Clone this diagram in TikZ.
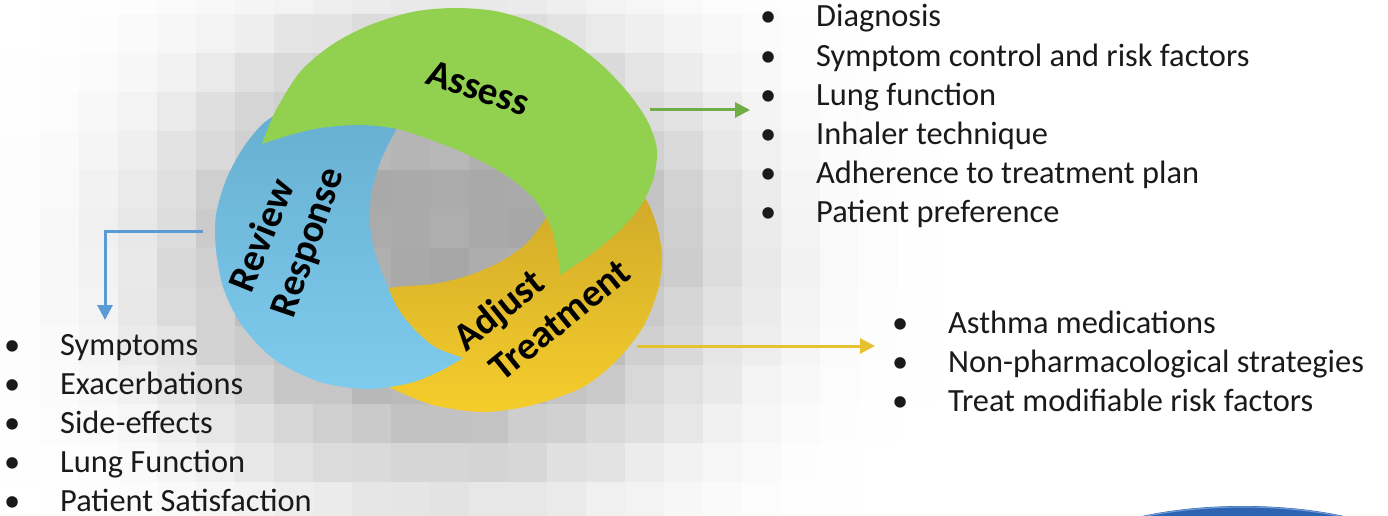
\documentclass[tikz,border=0pt]{standalone}
\usepackage{fontspec}
\setmainfont{Carlito}
\usetikzlibrary{arrows.meta}
\definecolor{gfill}{HTML}{92D050}
\definecolor{btop}{HTML}{66AED0}
\definecolor{bbot}{HTML}{7ECBEE}
\definecolor{ytop}{HTML}{CCA62A}
\definecolor{ybot}{HTML}{F5CD2B}
\definecolor{garr}{HTML}{70AD47}
\definecolor{barr}{HTML}{5B9BD5}
\definecolor{yarr}{HTML}{E6C22E}
\definecolor{txt}{HTML}{1A1A1A}
\definecolor{logo}{HTML}{2E63B2}
\definecolor{logorim}{HTML}{6E9AD6}
\tikzset{
  lbl/.style={font=\fontsize{39}{44}\selectfont\bfseries, text=black, inner sep=0pt},
  listtext/.style={font=\fontsize{32.4}{39.2}\selectfont, text=txt, inner sep=0pt, anchor=base west},
  conn/.style={line width=3pt, -{Triangle[length=15pt,width=15pt]}},
}
\newcommand{\bul}{\makebox[56pt][l]{\textbullet}}
\begin{document}
\begin{tikzpicture}[x=1pt,y=-1pt]
\useasboundingbox (0,0) rectangle (1388,516);
\clip (0,0) rectangle (1388,516);
\fill[white] (0,0) rectangle (1388,516);
% pixelated shadow background
\pgfmathsetseed{12}
\foreach \i in {-1,...,23}{
  \foreach \j in {0,...,13}{
    \pgfmathsetmacro\cx{1+39*\i+19.5}
    \pgfmathsetmacro\cy{-25+39*\j+19.5}
    \pgfmathsetmacro\rx{(\cx-445)/285}
    \pgfmathsetmacro\ry{(\cy-255)/235}
    \pgfmathsetmacro\rr{sqrt(\rx*\rx+\ry*\ry)}
    \pgfmathsetmacro\dk{33*exp(-\rr*\rr*\rr)*(0.92+0.16*rnd)}
    \fill[black!\dk] (1+39*\i,-25+39*\j) rectangle ++(39.6,39.6);
  }
}
% yellow crescent (bottom layer)
\shade[top color=ytop, bottom color=ybot]
  plot[smooth] coordinates {(605,168) (632,182) (648,203) (658,230) (662,258) (658,290) (643,327) (617,360) (583,387) (533,405) (483,412) (433,405) (395,390) (370,378)}
  -- (350,340)
  -- plot[smooth] coordinates {(365,300) (390,288) (433,284) (467,276) (500,262) (527,243) (547,217) (568,190) (595,168)}
  -- cycle;
% blue crescent
\shade[top color=btop, bottom color=bbot]
  plot[smooth] coordinates {(400,110) (340,100) (295,106) (265,122) (243,148) (226,180) (216,215) (216,250) (224,290) (243,327) (275,360) (320,382) (367,389) (410,383) (440,371) (463,358)}
  -- plot[smooth] coordinates {(463,358) (435,347) (413,328) (397,307) (385,280) (375,253) (370,225) (371,195) (378,168) (387,147) (397,128) (405,115)}
  -- cycle;
% green crescent (top layer)
\fill[gfill]
  plot[smooth] coordinates {(262,144) (275,112) (300,72) (333,44) (370,25) (412,12) (453,8) (495,11) (535,23) (572,42) (603,66) (630,95) (648,122) (657,150) (653,180) (640,207) (618,232) (590,255) (560,275)}
  -- plot[smooth] coordinates {(560,275) (557,250) (550,225) (535,200) (510,178) (475,158) (437,142) (397,129) (360,125) (320,128) (290,135) (262,144)}
  -- cycle;
% labels
\node[lbl, rotate=-18.5] (assess) at (478,88) {Assess};
\node[lbl, rotate=68] (review) at (261,235) {Review};
\node[lbl, rotate=71] (response) at (310,243) {Response};
\node[lbl, rotate=39] (adjust) at (500,312) {Adjust};
\node[lbl, rotate=39] (treat) at (560,320) {Treatment};
% lists
\node[listtext] (listA) at (760,27) {\begin{tabular}[t]{@{}l@{}}
\bul Diagnosis\\
\bul Symptom control and risk factors\\
\bul Lung function\\
\bul Inhaler technique\\
\bul Adherence to treatment plan\\
\bul Patient preference
\end{tabular}};
\node[listtext] (listT) at (892,333) {\begin{tabular}[t]{@{}l@{}}
\bul Asthma medications\\
\bul Non-pharmacological strategies\\
\bul Treat modifiable risk factors
\end{tabular}};
\node[listtext] (listR) at (4,355) {\begin{tabular}[t]{@{}l@{}}
\bul Symptoms\\
\bul Exacerbations\\
\bul Side-effects\\
\bul Lung Function\\
\bul Patient Satisfaction
\end{tabular}};
% connectors
\coordinate (gs) at (650,110);
\coordinate (ge) at (750,110);
\coordinate (bs) at (203,231);
\coordinate (be) at (105,320);
\coordinate (ys) at (637,346);
\coordinate (ye) at (875,346);
\draw[conn, garr] (gs) -- (ge);
\draw[conn, barr] (bs) -| (be);
\draw[conn, yarr] (ys) -- (ye);
% partial logo bottom right
\fill[logo] (1243,566) ellipse [x radius=182, y radius=60];
\draw[logorim, line width=1.2pt] (1243,566) ellipse [x radius=181, y radius=59];
\end{tikzpicture}
\end{document}
